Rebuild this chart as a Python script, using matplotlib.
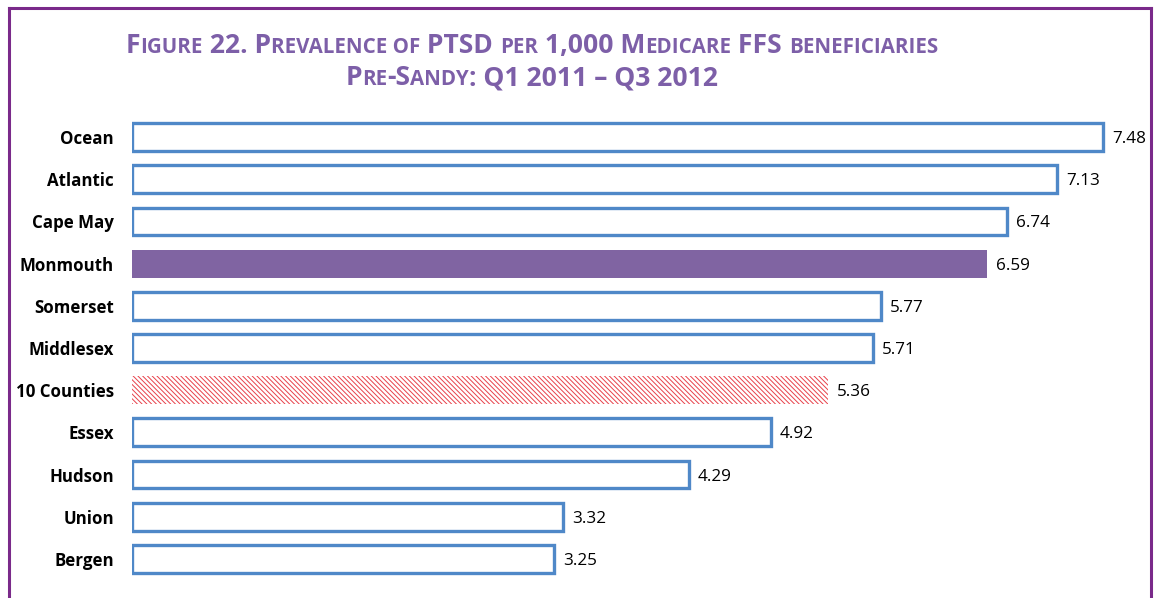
import matplotlib
matplotlib.use("Agg")
import matplotlib.pyplot as plt
from matplotlib.lines import Line2D

categories = ['Ocean', 'Atlantic', 'Cape May', 'Monmouth', 'Somerset', 'Middlesex',
              '10 Counties', 'Essex', 'Hudson', 'Union', 'Bergen']
values = [7.48, 7.13, 6.74, 6.59, 5.77, 5.71, 5.36, 4.92, 4.29, 3.32, 3.25]
value_labels = ['7.48', '7.13', '6.74', '6.59', '5.77', '5.71', '5.36', '4.92', '4.29', '3.32', '3.25']

FONT = 'Open Sans'
W, H = 1154, 598
fig = plt.figure(figsize=(W / 100, H / 100), dpi=100)
fig.patch.set_facecolor('white')

# axes placement in pixels
ax_left, ax_right = 132, 1150
ax_top, ax_bottom = 116, 580
ax = fig.add_axes([ax_left / W, 1 - ax_bottom / H, (ax_right - ax_left) / W, (ax_bottom - ax_top) / H])
px_per_unit = 129.8
ax.set_xlim(0, (ax_right - ax_left) / px_per_unit)
n = len(categories)
ax.set_ylim(n - 0.5, -0.5)

plt.rcParams['hatch.linewidth'] = 0.7
blue = '#4F88C8'
purple_fill = '#8064A2'
for i, (c, v) in enumerate(zip(categories, values)):
    if c == 'Monmouth':
        ax.barh(i, v, height=0.66, color=purple_fill, edgecolor=purple_fill, linewidth=0)
    elif c == '10 Counties':
        ax.barh(i, v, height=0.66, facecolor='white', edgecolor='#E8404A', hatch='\\\\\\\\\\\\\\', linewidth=0)
    else:
        ax.barh(i, v, height=0.66, facecolor='white', edgecolor=blue, linewidth=2.4)
    ax.annotate(value_labels[i], xy=(v, i), xytext=(6.5, 0), textcoords='offset points',
                va='center_baseline', ha='left', fontsize=12.3, family=FONT, color='black')

ax.set_yticks(range(n))
ax.set_yticklabels(categories, fontsize=12.2, fontweight='bold', family=FONT)
ax.tick_params(axis='y', length=0, pad=13)
ax.set_xticks([])
for s in ax.spines.values():
    s.set_visible(False)

# frame
fcol = '#7A2A8A'
lw = 2.2
fig.add_artist(Line2D([9 / W, 9 / W], [0, 1 - 8 / H], color=fcol, lw=lw, transform=fig.transFigure))
fig.add_artist(Line2D([1151 / W, 1151 / W], [0, 1 - 8 / H], color=fcol, lw=lw, transform=fig.transFigure))
fig.add_artist(Line2D([9 / W, 1151 / W], [1 - 8 / H, 1 - 8 / H], color=fcol, lw=lw, transform=fig.transFigure))

# small caps title
tcol = '#7D5FA8'
big, small = 19.1, 14.8
line1 = [('F', 1), ('IGURE', 0), (' 22. P', 1), ('REVALENCE OF', 0), (' PTSD ', 1), ('PER', 0),
         (' 1,000 M', 1), ('EDICARE', 0), (' FFS ', 1), ('BENEFICIARIES', 0)]
line2 = [('P', 1), ('RE', 0), ('-S', 1), ('ANDY', 0), (': Q1 2011 \u2013 Q3 2012', 1)]

renderer = fig.canvas.get_renderer()

def draw_smallcaps(pieces, xc, yc):
    texts = []
    for t, b in pieces:
        txt = fig.text(0, 0, t, fontsize=big if b else small, fontweight='bold', family=FONT,
                       color=tcol, ha='left', va='baseline')
        texts.append(txt)
    widths = [tx.get_window_extent(renderer=renderer).width for tx in texts]
    total = sum(widths)
    x = xc - total / 2
    for tx, w in zip(texts, widths):
        tx.set_position((x / W, 1 - yc / H))
        x += w

draw_smallcaps(line1, 532, 53)
draw_smallcaps(line2, 532, 85)

fig.savefig('out.png', dpi=100)
